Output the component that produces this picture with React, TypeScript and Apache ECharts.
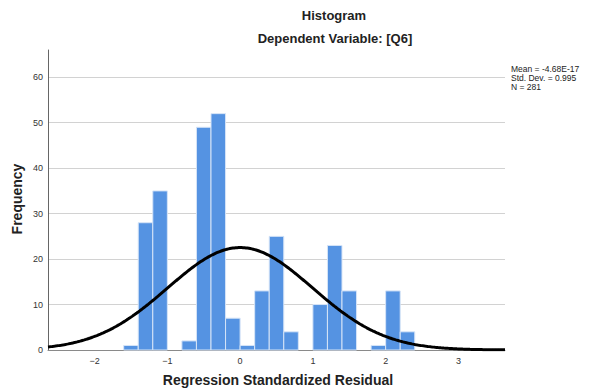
import React, { useEffect, useRef } from "react";
import * as echarts from "echarts";

// Histogram bins (width 0.2, starting at -1.6)
const binStart = -1.6;
const binWidth = 0.2;
const binCounts = [1, 28, 35, 0, 2, 49, 52, 7, 1, 13, 25, 4, 0, 10, 23, 13, 0, 1, 13, 4];

// Summary statistics shown beside the plot
const mean = -4.68e-17;
const stdDev = 0.995;
const n = 281;
const statLines = ["Mean = -4.68E-17", "Std. Dev. = 0.995", "N = 281"];

const xMin = -2.64;
const xMax = 3.64;
const yMax = 66;
const yTickStep = 10;

const FONT = "'Liberation Sans', Arial, sans-serif";

export default function App() {
  const ref = useRef<HTMLDivElement>(null);

  useEffect(() => {
    if (!ref.current) return;
    const chart = echarts.init(ref.current, undefined, { renderer: "svg" });

    const bars = binCounts.map((c, i) => {
      const s = binStart + i * binWidth;
      return [s, s + binWidth, c];
    });

    // Fitted normal curve scaled to the histogram (N * bin width * density)
    const curve: number[][] = [];
    const steps = 314;
    for (let i = 0; i <= steps; i++) {
      const x = xMin + ((xMax - xMin) * i) / steps;
      const z = (x - mean) / stdDev;
      const y = (n * binWidth * Math.exp(-0.5 * z * z)) / (stdDev * Math.sqrt(2 * Math.PI));
      curve.push([x, y]);
    }

    chart.setOption({
      animation: false,
      backgroundColor: "#ffffff",
      textStyle: { fontFamily: FONT },
      grid: { left: 48, top: 50, width: 457, height: 300, containLabel: false },
      xAxis: {
        type: "value",
        min: xMin,
        max: xMax,
        splitNumber: 6,
        axisLine: { show: true, onZero: false, lineStyle: { color: "#8a8a8a", width: 1 } },
        axisTick: { show: false },
        splitLine: { show: false },
        axisLabel: {
          color: "#333",
          fontSize: 9,
          margin: 6,
          fontFamily: FONT,
          showMinLabel: false,
          showMaxLabel: false,
          formatter: (v: number) =>
            Math.abs(v - Math.round(v)) < 1e-6 ? String(Math.round(v)).replace("-", "\u2212") : "",
        },
      },
      yAxis: {
        type: "value",
        min: 0,
        max: yMax,
        interval: yTickStep,
        axisLine: { show: true, onZero: false, lineStyle: { color: "#666", width: 1 } },
        axisTick: { show: false },
        splitLine: {
          show: true,
          showMinLine: false,
          showMaxLine: false,
          lineStyle: { color: "#d2d2d2", width: 1 },
        },
        axisLabel: {
          color: "#333",
          fontSize: 9,
          margin: 5,
          fontFamily: FONT,
          showMaxLabel: false,
          formatter: (v: number) => (v % yTickStep === 0 ? String(v) : ""),
        },
      },
      graphic: [
        {
          type: "text",
          x: 334,
          y: 15,
          style: {
            text: "Histogram",
            fontSize: 13,
            fontWeight: "bold",
            fontFamily: FONT,
            fill: "#222",
            textAlign: "center",
            textVerticalAlign: "middle",
          },
        },
        {
          type: "text",
          x: 335,
          y: 38,
          style: {
            text: "Dependent Variable: [Q6]",
            fontSize: 13,
            fontWeight: "bold",
            fontFamily: FONT,
            fill: "#222",
            textAlign: "center",
            textVerticalAlign: "middle",
          },
        },
        {
          type: "text",
          x: 278,
          y: 380,
          style: {
            text: "Regression Standardized Residual",
            fontSize: 14,
            fontWeight: "bold",
            fontFamily: FONT,
            fill: "#222",
            textAlign: "center",
            textVerticalAlign: "middle",
          },
        },
        {
          type: "text",
          x: 17,
          y: 199,
          rotation: Math.PI / 2,
          style: {
            text: "Frequency",
            fontSize: 14,
            fontWeight: "bold",
            fontFamily: FONT,
            fill: "#222",
            textAlign: "center",
            textVerticalAlign: "middle",
          },
        },
        {
          type: "text",
          x: 511,
          y: 64,
          style: {
            text: statLines.join("\n"),
            fontSize: 8.5,
            lineHeight: 9,
            fontFamily: FONT,
            fill: "#222",
            textAlign: "left",
            textVerticalAlign: "top",
          },
        },
      ],
      series: [
        {
          type: "custom",
          name: "Frequency",
          data: bars,
          encode: { x: [0, 1], y: 2 },
          z: 2,
          renderItem: (_params: any, api: any) => {
            const s = api.value(0);
            const e = api.value(1);
            const c = api.value(2);
            if (!c) return null;
            const p0 = api.coord([s, 0]);
            const p1 = api.coord([e, c]);
            return {
              type: "rect",
              shape: { x: p0[0], y: p1[1], width: p1[0] - p0[0], height: p0[1] - p1[1] },
              style: { fill: "#5593e2", stroke: "#d6e4f7", lineWidth: 1 },
            };
          },
        },
        {
          type: "line",
          name: "Normal",
          data: curve,
          showSymbol: false,
          symbol: "none",
          z: 3,
          lineStyle: { color: "#000", width: 3 },
        },
      ],
    });

    return () => chart.dispose();
  }, []);

  return (
    <div
      ref={ref}
      style={{ position: "fixed", left: 0, top: 0, width: 589, height: 392, overflow: "hidden" }}
    />
  );
}
